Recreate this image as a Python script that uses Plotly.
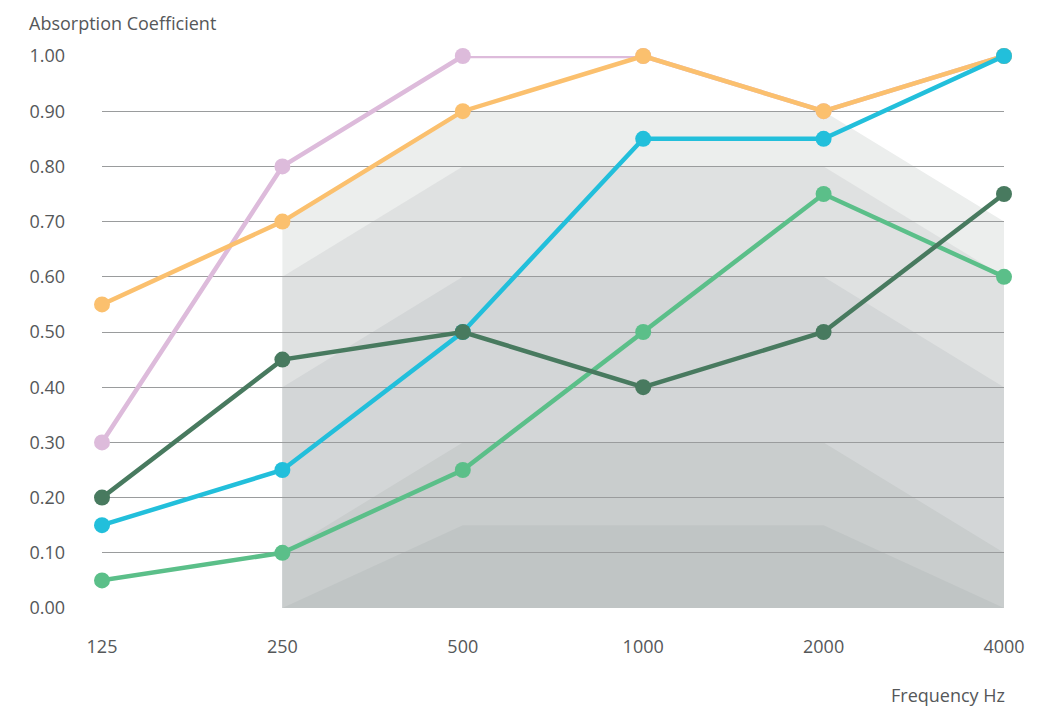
import plotly.graph_objects as go

# Octave band centre frequencies (Hz)
frequencies = ["125", "250", "500", "1000", "2000", "4000"]

# Absorption coefficient per product
pink_values = [0.30, 0.80, 1.00, 1.00, 0.90, 1.00]
orange_values = [0.55, 0.70, 0.90, 1.00, 0.90, 1.00]
blue_values = [0.15, 0.25, 0.50, 0.85, 0.85, 1.00]
light_green_values = [0.05, 0.10, 0.25, 0.50, 0.75, 0.60]
dark_green_values = [0.20, 0.45, 0.50, 0.40, 0.50, 0.75]

# Class zone boundaries (250 Hz .. 4000 Hz), outermost first
zone_freqs = ["250", "500", "1000", "2000", "4000"]
zone_a = [0.70, 0.90, 0.90, 0.90, 0.70]
zone_b = [0.60, 0.80, 0.80, 0.80, 0.60]
zone_c = [0.40, 0.60, 0.60, 0.60, 0.40]
zone_d = [0.10, 0.30, 0.30, 0.30, 0.10]
zone_e = [0.00, 0.15, 0.15, 0.15, 0.00]

y_ticks = [0.0, 0.1, 0.2, 0.3, 0.4, 0.5, 0.6, 0.7, 0.8, 0.9, 1.0]

TEXT = "#555759"
FONT = "'Open Sans', 'Noto Sans', sans-serif"

zones = [
    (zone_a, "#ECEEED"),
    (zone_b, "#DFE1E1"),
    (zone_c, "#D3D6D7"),
    (zone_d, "#C9CDCD"),
    (zone_e, "#C0C5C5"),
]

series = [
    (pink_values, "#DDBBDB"),
    (orange_values, "#FBC06E"),
    (blue_values, "#22BFDB"),
    (light_green_values, "#5BBF89"),
    (dark_green_values, "#487A5F"),
]

xpos = {f: i for i, f in enumerate(frequencies)}

fig = go.Figure()

# shaded class zones as shapes under the gridlines
shapes = []
for bounds, color in zones:
    xs = [xpos[f] for f in zone_freqs]
    pts = [(xs[0], 0)] + list(zip(xs, bounds)) + [(xs[-1], 0)]
    path = "M " + " L ".join(f"{x},{y}" for x, y in pts) + " Z"
    shapes.append(dict(type="path", path=path, xref="x", yref="y",
                       fillcolor=color, line=dict(width=0), layer="below"))

for values, color in series:
    fig.add_trace(go.Scatter(
        x=[xpos[f] for f in frequencies],
        y=values,
        mode="lines+markers",
        line=dict(color=color, width=4.5),
        marker=dict(color=color, size=16),
        cliponaxis=False,
        hoverinfo="skip",
        showlegend=False,
    ))

# page body has an 8px margin, so the figure is a bit smaller than the window
fig.update_layout(
    width=1037,
    height=701,
    paper_bgcolor="white",
    plot_bgcolor="rgba(0,0,0,0)",
    font=dict(family=FONT, color=TEXT, size=18),
    margin=dict(l=94, r=41, t=48, b=101),
    shapes=shapes,
    annotations=[
        dict(text="Absorption Coefficient", xref="paper", yref="paper",
             x=-0.083, y=1.086, xanchor="left", yanchor="top",
             showarrow=False, font=dict(size=18, color=TEXT)),
        dict(text="Frequency Hz", xref="paper", yref="paper",
             x=1.003, y=-0.133, xanchor="right", yanchor="top",
             showarrow=False, font=dict(size=18, color=TEXT)),
    ],
)

fig.update_xaxes(
    range=[0, 5],
    tickmode="array",
    tickvals=list(range(len(frequencies))),
    ticktext=frequencies,
    showgrid=False,
    zeroline=False,
    showline=False,
    ticks="",
    ticklabelstandoff=26,
    fixedrange=True,
)

fig.update_yaxes(
    range=[0, 1.0],
    tickmode="array",
    tickvals=y_ticks,
    ticktext=[f"{v:.2f}" for v in y_ticks],
    showgrid=True,
    gridcolor="#9A9C9D",
    gridwidth=1,
    zeroline=False,
    showline=False,
    ticks="",
    ticklabelstandoff=36,
    fixedrange=True,
)

fig.write_html("out.html")
